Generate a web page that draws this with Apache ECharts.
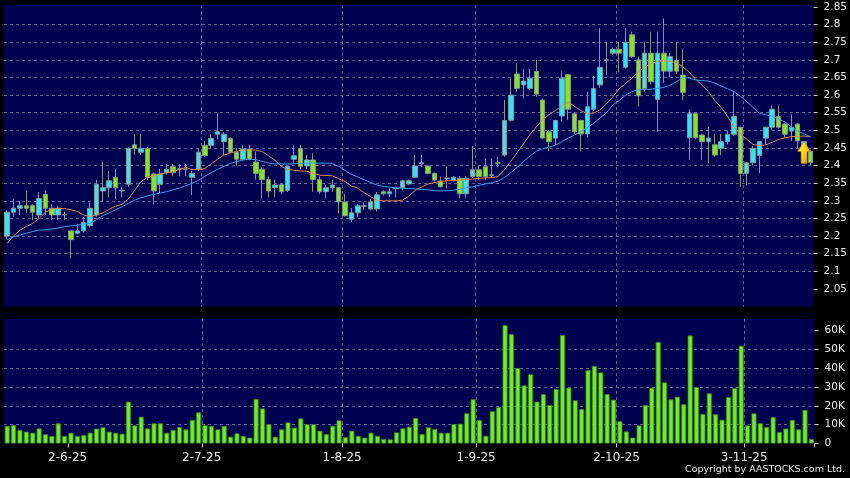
<!DOCTYPE html>
<html><head><meta charset="utf-8">
<script src="https://cdn.jsdelivr.net/npm/echarts@6/dist/echarts.min.js"></script>
<style>html,body{margin:0;padding:0;background:#000;}#c{width:850px;height:478px;}</style>
</head><body><div id="c"></div>
<script>
const dates = [
'20-5-25','21-5-25','22-5-25','23-5-25','26-5-25','27-5-25','28-5-25','29-5-25','30-5-25',
'2-6-25','3-6-25','4-6-25','5-6-25','6-6-25','9-6-25','10-6-25','11-6-25','12-6-25','13-6-25','16-6-25','17-6-25','18-6-25','19-6-25','20-6-25','23-6-25','24-6-25','25-6-25','26-6-25','27-6-25','30-6-25',
'2-7-25','3-7-25','4-7-25','7-7-25','8-7-25','9-7-25','10-7-25','11-7-25','14-7-25','15-7-25','16-7-25','17-7-25','18-7-25','21-7-25','22-7-25','23-7-25','24-7-25','25-7-25','28-7-25','29-7-25','30-7-25','31-7-25',
'1-8-25','4-8-25','5-8-25','6-8-25','7-8-25','8-8-25','11-8-25','12-8-25','13-8-25','14-8-25','15-8-25','18-8-25','19-8-25','20-8-25','21-8-25','22-8-25','25-8-25','26-8-25','27-8-25','28-8-25','29-8-25',
'1-9-25','2-9-25','3-9-25','4-9-25','5-9-25','8-9-25','9-9-25','10-9-25','11-9-25','12-9-25','15-9-25','16-9-25','17-9-25','18-9-25','19-9-25','22-9-25','23-9-25','24-9-25','25-9-25','26-9-25','29-9-25','30-9-25',
'2-10-25','3-10-25','6-10-25','8-10-25','9-10-25','10-10-25','13-10-25','14-10-25','15-10-25','16-10-25','17-10-25','20-10-25','21-10-25','22-10-25','23-10-25','24-10-25','27-10-25','28-10-25','30-10-25','31-10-25',
'3-11-25','4-11-25','5-11-25','6-11-25','7-11-25','10-11-25','11-11-25','12-11-25','13-11-25','14-11-25','17-11-25','18-11-25'];

const opens = [2.20,2.268,2.279,2.286,2.287,2.26,2.318,2.279,2.26,2.26,
2.215,2.208,2.215,2.23,2.26,2.328,2.337,2.367,2.328,2.347,
2.459,2.438,2.449,2.376,2.347,2.38,2.397,2.39,2.39,2.367,
2.39,2.457,2.457,2.489,2.468,2.477,2.438,2.418,2.447,2.41,
2.39,2.36,2.338,2.346,2.33,2.418,2.449,2.399,2.416,2.36,
2.326,2.337,2.337,2.297,2.248,2.266,2.285,2.277,2.277,2.326,
2.32,2.335,2.338,2.348,2.367,2.405,2.399,2.378,2.356,2.364,
2.359,2.364,2.32,2.369,2.388,2.397,2.372,2.407,2.43,2.529,
2.66,2.629,2.619,2.667,2.586,2.496,2.478,2.541,2.658,2.547,
2.528,2.49,2.56,2.629,2.699,2.719,2.73,2.679,2.771,2.70,
2.619,2.719,2.588,2.719,2.668,2.698,2.657,2.479,2.548,2.487,
2.468,2.459,2.449,2.468,2.489,2.509,2.378,2.408,2.429,2.478,
2.509,2.539,2.518,2.498,2.518,2.449,2.44];
const closes = [2.268,2.279,2.286,2.279,2.268,2.307,2.279,2.26,2.279,2.261,
2.19,2.215,2.239,2.279,2.347,2.337,2.357,2.337,2.33,2.449,
2.449,2.449,2.367,2.328,2.376,2.39,2.38,2.391,2.39,2.378,
2.438,2.428,2.477,2.496,2.489,2.438,2.418,2.447,2.418,2.378,
2.36,2.328,2.345,2.326,2.397,2.428,2.397,2.416,2.36,2.326,
2.337,2.345,2.297,2.258,2.266,2.286,2.286,2.297,2.317,2.32,
2.326,2.336,2.357,2.357,2.399,2.408,2.378,2.359,2.34,2.365,
2.367,2.32,2.364,2.388,2.369,2.369,2.374,2.408,2.528,2.60,
2.619,2.64,2.648,2.603,2.478,2.468,2.528,2.648,2.56,2.496,
2.49,2.567,2.619,2.679,2.70,2.73,2.719,2.75,2.709,2.598,
2.719,2.638,2.719,2.668,2.709,2.668,2.608,2.548,2.479,2.468,
2.478,2.43,2.468,2.489,2.539,2.378,2.408,2.449,2.468,2.509,
2.56,2.509,2.489,2.509,2.47,2.468,2.409];
const lows = [2.19,2.255,2.26,2.265,2.245,2.25,2.26,2.245,2.245,2.245,
2.137,2.205,2.21,2.225,2.255,2.30,2.31,2.305,2.31,2.34,
2.43,2.43,2.36,2.29,2.32,2.375,2.37,2.37,2.37,2.317,
2.385,2.425,2.45,2.475,2.428,2.435,2.40,2.415,2.415,2.36,
2.307,2.31,2.31,2.32,2.325,2.405,2.39,2.39,2.326,2.32,
2.307,2.325,2.265,2.255,2.24,2.255,2.275,2.275,2.27,2.315,
2.31,2.31,2.33,2.345,2.365,2.395,2.375,2.355,2.338,2.335,
2.355,2.307,2.307,2.365,2.36,2.36,2.365,2.395,2.425,2.525,
2.61,2.59,2.615,2.595,2.475,2.44,2.458,2.525,2.53,2.49,
2.44,2.48,2.555,2.62,2.657,2.715,2.665,2.675,2.705,2.567,
2.61,2.63,2.496,2.634,2.65,2.66,2.586,2.416,2.475,2.416,
2.406,2.425,2.43,2.46,2.485,2.34,2.345,2.40,2.378,2.46,
2.50,2.505,2.48,2.47,2.45,2.44,2.40];
const highs = [2.272,2.305,2.30,2.328,2.29,2.325,2.33,2.29,2.285,2.27,
2.215,2.235,2.255,2.295,2.36,2.41,2.385,2.39,2.34,2.452,
2.49,2.49,2.452,2.38,2.39,2.405,2.405,2.405,2.405,2.385,
2.45,2.47,2.49,2.548,2.495,2.48,2.45,2.458,2.46,2.44,
2.395,2.37,2.36,2.35,2.40,2.457,2.458,2.43,2.435,2.37,
2.345,2.36,2.34,2.32,2.28,2.29,2.295,2.305,2.325,2.33,
2.335,2.34,2.36,2.36,2.43,2.43,2.40,2.38,2.369,2.397,
2.37,2.37,2.37,2.455,2.40,2.42,2.42,2.425,2.586,2.645,
2.69,2.675,2.674,2.70,2.59,2.50,2.53,2.667,2.66,2.55,
2.53,2.61,2.655,2.79,2.752,2.735,2.75,2.79,2.78,2.71,
2.752,2.78,2.78,2.818,2.72,2.75,2.73,2.56,2.55,2.49,
2.51,2.49,2.49,2.50,2.61,2.51,2.41,2.455,2.47,2.51,
2.57,2.57,2.52,2.545,2.52,2.47,2.445];
const volumes = [9300,9800,7200,6300,5700,8000,4900,4000,10700,4000,
5700,4000,4500,5700,7900,8600,6300,5700,5200,22200,
9600,14200,8000,10700,10700,5700,7200,8700,7500,12500,
16500,9800,9300,7500,9300,3600,5400,4000,3100,23600,
18600,10200,3600,7500,11200,8400,13300,10200,10200,6800,
5000,9400,12300,3400,6800,4000,3100,5700,4000,2400,
2200,5900,8000,8900,13500,5000,8600,7700,5700,5700,
10300,10500,16000,23400,12500,4100,17100,19300,62800,58000,
40000,30800,36700,22200,26200,20400,28900,57500,29600,22900,
18300,38800,41100,37700,26200,23200,11800,6400,3100,9600,
20400,29600,53800,32400,23400,24800,20800,57300,29900,15600,
26600,15500,12600,24600,29400,51800,9600,16000,10700,8700,
14000,6100,7900,12500,7500,17800,2400];
const ma10 = [2.18,2.20,2.217,2.227,2.236,2.25,2.268,2.276,2.279,2.278,
2.275,2.27,2.26,2.255,2.26,2.266,2.276,2.285,2.29,2.305,
2.33,2.355,2.367,2.372,2.376,2.38,2.383,2.389,2.395,2.389,
2.388,2.392,2.405,2.418,2.43,2.436,2.44,2.444,2.445,2.444,
2.44,2.428,2.415,2.398,2.389,2.387,2.385,2.384,2.378,2.373,
2.372,2.371,2.363,2.355,2.342,2.336,2.323,2.312,2.302,2.30,
2.30,2.30,2.302,2.313,2.33,2.339,2.348,2.352,2.355,2.357,
2.358,2.359,2.361,2.362,2.364,2.365,2.366,2.369,2.388,2.412,
2.437,2.462,2.488,2.51,2.53,2.545,2.556,2.57,2.58,2.568,
2.556,2.548,2.549,2.558,2.575,2.595,2.618,2.633,2.648,2.665,
2.68,2.69,2.696,2.698,2.696,2.692,2.68,2.665,2.645,2.628,
2.61,2.585,2.565,2.54,2.51,2.49,2.475,2.46,2.457,2.459,
2.466,2.474,2.479,2.482,2.483,2.484,2.482];
const ma20 = [2.19,2.198,2.203,2.208,2.213,2.217,2.218,2.22,2.223,2.227,
2.229,2.231,2.234,2.236,2.247,2.258,2.266,2.275,2.283,2.293,
2.302,2.309,2.314,2.318,2.322,2.326,2.331,2.336,2.343,2.35,
2.358,2.37,2.38,2.389,2.398,2.406,2.412,2.416,2.418,2.417,
2.412,2.407,2.405,2.405,2.405,2.405,2.406,2.407,2.407,2.407,
2.407,2.406,2.398,2.387,2.375,2.368,2.36,2.352,2.345,2.341,
2.339,2.337,2.336,2.335,2.334,2.332,2.331,2.329,2.328,2.329,
2.33,2.333,2.337,2.34,2.344,2.348,2.351,2.356,2.366,2.38,
2.395,2.412,2.427,2.441,2.448,2.452,2.458,2.468,2.478,2.487,
2.497,2.508,2.52,2.535,2.55,2.572,2.585,2.6,2.61,2.615,
2.616,2.617,2.619,2.622,2.628,2.638,2.65,2.648,2.643,2.641,
2.64,2.634,2.626,2.618,2.61,2.597,2.582,2.565,2.548,2.544,
2.54,2.532,2.524,2.51,2.498,2.49,2.482];
const priceTicks = [2.05,2.1,2.15,2.2,2.25,2.3,2.35,2.4,2.45,2.5,2.55,2.6,2.65,2.7,2.75,2.8,2.85];
const volumeTicks = [0,10000,20000,30000,40000,50000,60000];
const arrowAt = {index: 125, price: 2.437};

const monthStart = new Set();
dates.forEach((d, i) => { if (i > 0 && d.split('-')[1] !== dates[i-1].split('-')[1]) monthStart.add(i); });

const FONT = 'DejaVu Sans';
const gridLine = {color: '#62629a', width: 1, type: [3, 3]};
const txt = '#ececec';
const chart = echarts.init(document.getElementById('c'), null, {renderer: 'canvas'});
const xBase = {
  type: 'category', data: dates, boundaryGap: true,
  axisLine: {show: false},
  splitLine: {show: true, interval: (i) => monthStart.has(i - 1), showMaxLine: false, showMinLine: false, lineStyle: gridLine}
};
chart.setOption({
  animation: false,
  backgroundColor: '#000000',
  grid: [
    {left: 4, width: 810.6, top: 5, height: 301.6, show: true, backgroundColor: '#000050', borderWidth: 0},
    {left: 4, width: 810.6, top: 319, height: 124.5, show: true, backgroundColor: '#000050', borderWidth: 0}
  ],
  xAxis: [
    Object.assign({}, xBase, {gridIndex: 0, axisTick: {show: false}, axisLabel: {show: false}}),
    Object.assign({}, xBase, {gridIndex: 1,
      axisTick: {show: true, interval: (i) => monthStart.has(i - 1), length: 4, lineStyle: {color: '#cccccc'}},
      axisLabel: {show: true, interval: (i) => monthStart.has(i), color: txt, fontSize: 12, fontFamily: FONT, margin: 8, padding: [0, 0, 0, 6]}})
  ],
  yAxis: [
    {type: 'value', gridIndex: 0, position: 'right', min: 2.0, max: 2.8557, interval: 0.05, scale: false,
      axisLine: {show: false},
      axisTick: {show: true, length: 4, customValues: priceTicks, lineStyle: {color: '#cccccc'}},
      axisLabel: {customValues: priceTicks, color: txt, fontSize: 10.5, fontFamily: FONT, margin: 10,
        formatter: (v) => String(+(+v).toFixed(2))},
      splitLine: {show: true, showMinLine: false, showMaxLine: false, lineStyle: gridLine}},
    {type: 'value', gridIndex: 1, position: 'right', min: 0, max: 66000, interval: 10000,
      axisLine: {show: false},
      axisTick: {show: true, length: 4, customValues: volumeTicks, lineStyle: {color: '#cccccc'}},
      axisLabel: {customValues: volumeTicks, color: txt, fontSize: 10.5, fontFamily: FONT, margin: 10,
        formatter: (v) => v === 0 ? '0' : (v / 1000) + 'K'},
      splitLine: {show: true, showMinLine: false, showMaxLine: false, lineStyle: gridLine}}
  ],
  series: [
    {type: 'candlestick', xAxisIndex: 0, yAxisIndex: 0, barWidth: 5,
      data: dates.map((d, i) => [opens[i], closes[i], lows[i], highs[i]]),
      itemStyle: {color: '#2ee6f2', color0: '#80e61e', borderColor: '#809a9a', borderColor0: '#809a80', borderWidth: 1},
      markPoint: {silent: true, symbol: 'path://M6.5,0 L13,10 L9.5,10 L9.5,22 L3.5,22 L3.5,10 L0,10 Z',
        symbolSize: [13, 22], symbolKeepAspect: false, label: {show: false},
        itemStyle: {color: new echarts.graphic.LinearGradient(0, 0, 1, 1, [{offset: 0, color: '#fff77a'}, {offset: 0.5, color: '#ffd400'}, {offset: 1, color: '#d98a00'}]), borderColor: '#b37400', borderWidth: 0.5},
        data: [{coord: [dates[arrowAt.index], arrowAt.price]}]}},
    {type: 'line', xAxisIndex: 0, yAxisIndex: 0, data: ma10, showSymbol: false, smooth: false,
      lineStyle: {color: '#e0864e', width: 1}, z: 3},
    {type: 'line', xAxisIndex: 0, yAxisIndex: 0, data: ma20, showSymbol: false, smooth: false,
      lineStyle: {color: '#3b9de6', width: 1}, z: 3},
    {type: 'bar', xAxisIndex: 1, yAxisIndex: 1, data: volumes, barWidth: 5,
      itemStyle: {color: '#6cf01c', borderColor: '#3b8a14', borderWidth: 0.8}}
  ],
  graphic: [{type: 'text', right: 5, top: 465, silent: true,
    style: {text: 'Copyright by AASTOCKS.com Ltd.', fill: txt, font: '9.5px "DejaVu Sans"'}}]
});
</script>
</body></html>
